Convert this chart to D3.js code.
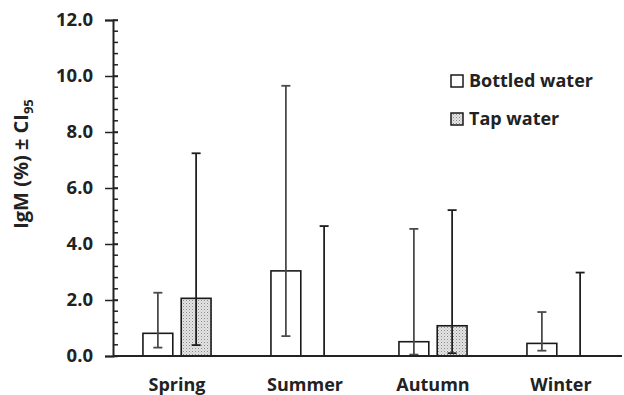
<!DOCTYPE html>
<html>
<head>
<meta charset="utf-8">
<script src="https://cdn.jsdelivr.net/npm/d3@7"></script>
<style>
  body { margin: 0; background: #fff; }
  svg { display: block; font-family: "Open Sans", "Liberation Sans", sans-serif; font-weight: 700; }
</style>
</head>
<body>
<div id="vis"></div>
<script>
// seasons along x, two water sources per season
const seasons = ['Spring', 'Summer', 'Autumn', 'Winter'];
const series = ['Bottled water', 'Tap water'];

// geometric mean IgM (%) and CI95 bounds
const bottledMean = [0.81, 3.04, 0.51, 0.45];
const bottledLow  = [0.30, 0.71, 0.05, 0.19];
const bottledHigh = [2.26, 9.65, 4.54, 1.57];
const tapMean = [2.06, 0.00, 1.08, 0.00];
const tapLow  = [0.39, 0.00, 0.10, 0.00];
const tapHigh = [7.24, 4.64, 5.21, 2.98];

const yTicks = [0, 2, 4, 6, 8, 10, 12];

const width = 624, height = 395;
const margin = { top: 20, right: 0, bottom: 39, left: 113 };

const svg = d3.select('#vis').append('svg')
  .attr('width', width)
  .attr('height', height);

// stipple pattern for the tap water bars
const defs = svg.append('defs');
const pat = defs.append('pattern')
  .attr('id', 'dots')
  .attr('width', 3).attr('height', 3)
  .attr('patternUnits', 'userSpaceOnUse');
pat.append('rect').attr('width', 3).attr('height', 3).attr('fill', '#e4e4e4');
pat.append('rect').attr('x', 0).attr('y', 0).attr('width', 1).attr('height', 1).attr('fill', '#8a8a8a');
pat.append('rect').attr('x', 1.5).attr('y', 1.5).attr('width', 1).attr('height', 1).attr('fill', '#b0b0b0');

const x = d3.scaleBand().domain(seasons).range([margin.left, 625]);
const bw = x.bandwidth();
const xs = d3.scaleBand().domain(series).range([bw * 0.234, bw * 0.766]).paddingInner(0.22);
const y = d3.scaleLinear().domain([0, 12]).range([height - margin.bottom, margin.top]);

const rows = [];
seasons.forEach((s, i) => {
  rows.push({ season: s, key: series[0], mean: bottledMean[i], lo: bottledLow[i], hi: bottledHigh[i] });
  rows.push({ season: s, key: series[1], mean: tapMean[i], lo: tapLow[i], hi: tapHigh[i] });
});

// bars
svg.append('g').selectAll('rect')
  .data(rows.filter(d => d.mean > 0))
  .join('rect')
  .attr('x', d => x(d.season) + xs(d.key))
  .attr('y', d => y(d.mean))
  .attr('width', xs.bandwidth())
  .attr('height', d => y(0) - y(d.mean))
  .attr('fill', d => d.key === series[0] ? '#fff' : 'url(#dots)')
  .attr('stroke', '#1a1a1a')
  .attr('stroke-width', 1.6);

// error bars
const eb = svg.append('g').selectAll('g')
  .data(rows)
  .join('g')
  .attr('stroke', d => d.key === series[0] ? '#4a4a4a' : '#1e1e1e')
  .attr('stroke-width', 1.8);
const cx = d => x(d.season) + xs(d.key) + xs.bandwidth() / 2;
eb.append('line')
  .attr('x1', cx).attr('x2', cx)
  .attr('y1', d => y(d.lo)).attr('y2', d => y(d.hi));
eb.append('line')
  .attr('x1', d => cx(d) - 4.5).attr('x2', d => cx(d) + 4.5)
  .attr('y1', d => y(d.hi)).attr('y2', d => y(d.hi));
eb.filter(d => d.lo > 0).append('line')
  .attr('x1', d => cx(d) - 4.5).attr('x2', d => cx(d) + 4.5)
  .attr('y1', d => y(d.lo)).attr('y2', d => y(d.lo));

// y axis: minor ticks inside, major ticks crossing
const yAxis = svg.append('g').attr('transform', `translate(${margin.left},0)`);
yAxis.selectAll('line.minor')
  .data(d3.range(0, 12.01, 0.4))
  .join('line')
  .attr('class', 'minor')
  .attr('x1', 0).attr('x2', 5)
  .attr('y1', d => y(d)).attr('y2', d => y(d))
  .attr('stroke', '#222').attr('stroke-width', 1.5);
yAxis.call(d3.axisLeft(y).tickValues(yTicks).tickFormat(d3.format('.1f')).tickSize(8).tickPadding(12))
  .call(g => g.select('.domain').attr('stroke', '#222').attr('stroke-width', 2))
  .call(g => g.selectAll('.tick line').attr('stroke', '#222').attr('stroke-width', 1.5).attr('x2', -8).attr('x1', 5))
  .call(g => g.selectAll('.tick text').attr('fill', '#222').style('font-size', '18.5px').style('font-weight', 700)
    .style('font-family', '"Open Sans", sans-serif'));

// x axis
const xAxis = svg.append('g').attr('transform', `translate(0,${y(0)})`);
xAxis.call(d3.axisBottom(x).tickSize(0).tickPadding(22))
  .call(g => g.select('.domain').attr('stroke', '#222').attr('stroke-width', 2).attr('d', `M${margin.left},0H622`))
  .call(g => g.selectAll('.tick text').attr('fill', '#222').style('font-size', '18px').style('font-weight', 700)
    .style('font-family', '"Open Sans", sans-serif'));

// y axis title
const yt = svg.append('text')
  .attr('transform', 'translate(28,164) rotate(-90)')
  .attr('text-anchor', 'middle')
  .attr('fill', '#222')
  .style('font-size', '20px');
yt.append('tspan').text('IgM (%) \u00b1 CI');
yt.append('tspan').attr('dy', 5).style('font-size', '13px').text('95');

// legend
const legend = svg.append('g');
series.forEach((s, i) => {
  const ly = 81 + i * 38;
  legend.append('rect')
    .attr('x', 451).attr('y', ly - 6).attr('width', 12).attr('height', 12)
    .attr('fill', i === 0 ? '#fff' : 'url(#dots)')
    .attr('stroke', '#1a1a1a').attr('stroke-width', 1.5);
  legend.append('text')
    .attr('x', 469).attr('y', ly).attr('dy', '0.35em')
    .attr('fill', '#222')
    .style('font-size', '18px')
    .text(s);
});
</script>
</body>
</html>
